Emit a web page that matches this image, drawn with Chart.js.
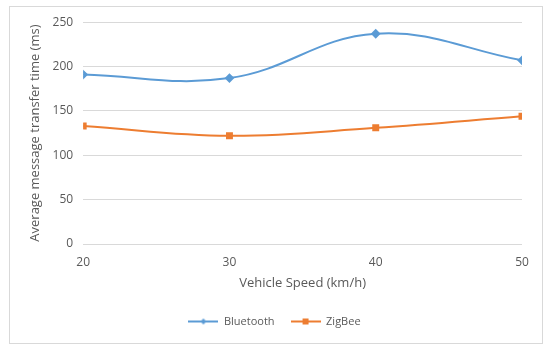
<!DOCTYPE html>
<html><head><meta charset="utf-8">
<script src="https://cdn.jsdelivr.net/npm/chart.js@4"></script>
<style>
html,body{margin:0;padding:0;background:#fff;}
#box{position:absolute;left:9px;top:6px;width:532px;height:336px;border:1px solid #d9d9d9;}
canvas{display:block;position:absolute;left:0;top:-2px;}
</style></head><body>
<div id="box"><canvas id="c" width="532" height="338"></canvas></div>
<script>
const speeds = [20, 30, 40, 50];
const bluetooth = [191, 187, 237, 207];
const zigbee = [133, 122, 131, 144];
const yTicks = [0, 50, 100, 150, 200, 250];
const seriesNames = ['Bluetooth', 'ZigBee'];
const colors = ['#5B9BD5', '#ED7D31'];

function legendIcon(color, shape){
  const c = document.createElement('canvas');
  c.width = 30; c.height = 10;
  const g = c.getContext('2d');
  g.strokeStyle = color; g.lineWidth = 2;
  g.beginPath(); g.moveTo(0,5); g.lineTo(30,5); g.stroke();
  g.fillStyle = color;
  if (shape === 'diamond'){
    g.beginPath(); g.moveTo(15,2); g.lineTo(18,5); g.lineTo(15,8); g.lineTo(12,5); g.closePath(); g.fill();
  } else {
    g.fillRect(12,2,6,6);
  }
  return c;
}
const icons = [legendIcon(colors[0],'diamond'), legendIcon(colors[1],'square')];

new Chart(document.getElementById('c'), {
  type: 'line',
  data: {
    datasets: [
      { label: seriesNames[0], data: speeds.map((x,i)=>({x, y: bluetooth[i]})),
        borderColor: colors[0], backgroundColor: colors[0], borderWidth: 2,
        pointStyle: 'rectRot', pointRadius: 3.5, pointHoverRadius: 3.5, tension: 0.4, cubicInterpolationMode: 'default' },
      { label: seriesNames[1], data: speeds.map((x,i)=>({x, y: zigbee[i]})),
        borderColor: colors[1], backgroundColor: colors[1], borderWidth: 2,
        pointStyle: 'rect', pointRadius: 3.5, pointHoverRadius: 3.5, tension: 0.4, cubicInterpolationMode: 'default' }
    ]
  },
  options: {
    responsive: false, animation: false,
    layout: { padding: { top: 7, right: 20, left: 17, bottom: 6 } },
    plugins: {
      legend: { position: 'bottom',
        labels: { color: '#595959', font: { family: 'Open Sans', size: 11 }, usePointStyle: true, pointStyleWidth: 30, padding: 16,
          generateLabels: (chart) => chart.data.datasets.map((d,i)=>({ text: d.label, pointStyle: icons[i], fontColor: '#595959', strokeStyle: colors[i], fillStyle: colors[i], datasetIndex: i, hidden: false, lineWidth: 0 })) } },
      tooltip: { enabled: false }
    },
    scales: {
      x: { type: 'linear', min: 20, max: 50,
        afterBuildTicks: (ax) => { ax.ticks = speeds.map(v=>({value: v})); },
        grid: { display: false, drawTicks: false }, border: { display: false },
        ticks: { color: '#595959', font: { family: 'Open Sans', size: 12 }, padding: 11 },
        title: { display: true, text: 'Vehicle Speed (km/h)', color: '#595959', font: { family: 'Open Sans', size: 13 }, padding: { top: -5, bottom: 9 } } },
      y: { min: 0, max: 250,
        afterBuildTicks: (ax) => { ax.ticks = yTicks.map(v=>({value: v})); },
        grid: { color: '#d9d9d9', lineWidth: 1, drawTicks: false }, border: { display: false },
        ticks: { color: '#595959', font: { family: 'Open Sans', size: 12 }, padding: 10 },
        title: { display: true, text: 'Average message transfer time (ms)', color: '#595959', font: { family: 'Open Sans', size: 13 }, padding: { top: 0, bottom: 0 } } }
    }
  }
});
</script>
</body></html>
